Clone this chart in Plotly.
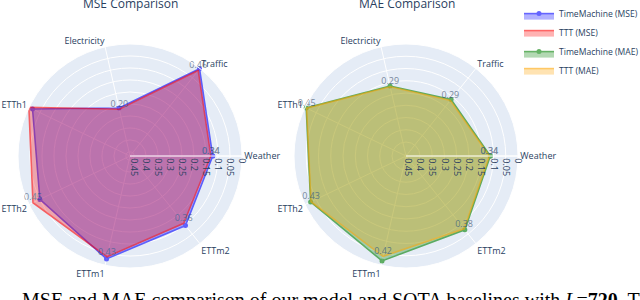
import plotly.graph_objects as go

categories = ["Weather", "Traffic", "Electricity", "ETTh1", "ETTh2", "ETTm1", "ETTm2"]
tm_mse = [0.345, 0.465, 0.205, 0.451, 0.417, 0.440, 0.371]
ttt_mse = [0.337, 0.456, 0.200, 0.468, 0.449, 0.431, 0.359]
tm_mae = [0.344, 0.295, 0.293, 0.452, 0.432, 0.439, 0.385]
ttt_mae = [0.340, 0.290, 0.290, 0.450, 0.430, 0.420, 0.380]

radial_ticks = [0, 0.05, 0.1, 0.15, 0.2, 0.25, 0.3, 0.35, 0.4, 0.45]
radial_tick_text = ["0", "0.05", "0.1", "0.15", "0.2", "0.25", "0.3", "0.35", "0.4", "0.45"]
mse_rmax = 0.467
mae_rmax = 0.457

titles = ["MSE Comparison", "MAE Comparison"]
caption = ("MSE and MAE comparison of our model and SOTA baselines with "
           "<i>L</i>=<b>720</b>. The")

W, H = 640, 300


def closed(v):
    return list(v) + [v[0]]


theta = closed(categories)
fig = go.Figure()
specs = [
    ("TimeMachine (MSE)", tm_mse, "blue", "polar", True),
    ("TTT (MSE)", ttt_mse, "red", "polar", False),
    ("TimeMachine (MAE)", tm_mae, "green", "polar2", True),
    ("TTT (MAE)", ttt_mae, "orange", "polar2", False),
]
for name, vals, col, sub, mk in specs:
    fig.add_trace(go.Scatterpolar(
        r=closed(vals), theta=theta, name=name, fill="toself",
        mode="lines+markers" if mk else "lines+text",
        text=None if mk else [f"{v:.2f}" for v in closed(vals)],
        textposition="top center",
        textfont=dict(size=9),
        line=dict(color=col, width=1.6), marker=dict(size=5),
        opacity=0.6, subplot=sub))


def radial(rmax):
    return dict(range=[0, rmax],
                tickvals=[rmax - t for t in radial_ticks],
                ticktext=radial_tick_text,
                tickangle=90, tickfont=dict(size=9))


def dom(x0, x1, ytop, ybot):
    return dict(x=[x0 / W, x1 / W], y=[(H - ybot) / H, (H - ytop) / H])


fig.update_layout(
    width=W, height=H,
    margin=dict(l=0, r=0, t=0, b=0, autoexpand=False),
    font=dict(size=9),
    polar=dict(domain=dom(18, 242, 44, 268),
               radialaxis=radial(mse_rmax),
               angularaxis=dict(tickfont=dict(size=9))),
    polar2=dict(domain=dom(294, 518, 44, 268),
                radialaxis=radial(mae_rmax),
                angularaxis=dict(tickfont=dict(size=9))),
    legend=dict(x=519 / W, y=1.003, font=dict(size=8.6), itemwidth=30),
    annotations=[
        dict(text=titles[0], x=130 / W, y=1, yshift=7, xref="paper", yref="paper",
             xanchor="center", yanchor="top", showarrow=False,
             font=dict(size=12, color="#2a3f5f")),
        dict(text=titles[1], x=407 / W, y=1, yshift=7, xref="paper", yref="paper",
             xanchor="center", yanchor="top", showarrow=False,
             font=dict(size=12, color="#2a3f5f")),
        dict(text=caption, x=20 / W, y=(H - 287) / H, xref="paper", yref="paper",
             xanchor="left", yanchor="top", showarrow=False,
             font=dict(size=20, color="black", family="Liberation Serif")),
    ],
)
fig.write_html("out.html",
               config={"displayModeBar": False},
               post_script="document.body.style.margin='0';"
                           "document.body.style.overflow='hidden';")
